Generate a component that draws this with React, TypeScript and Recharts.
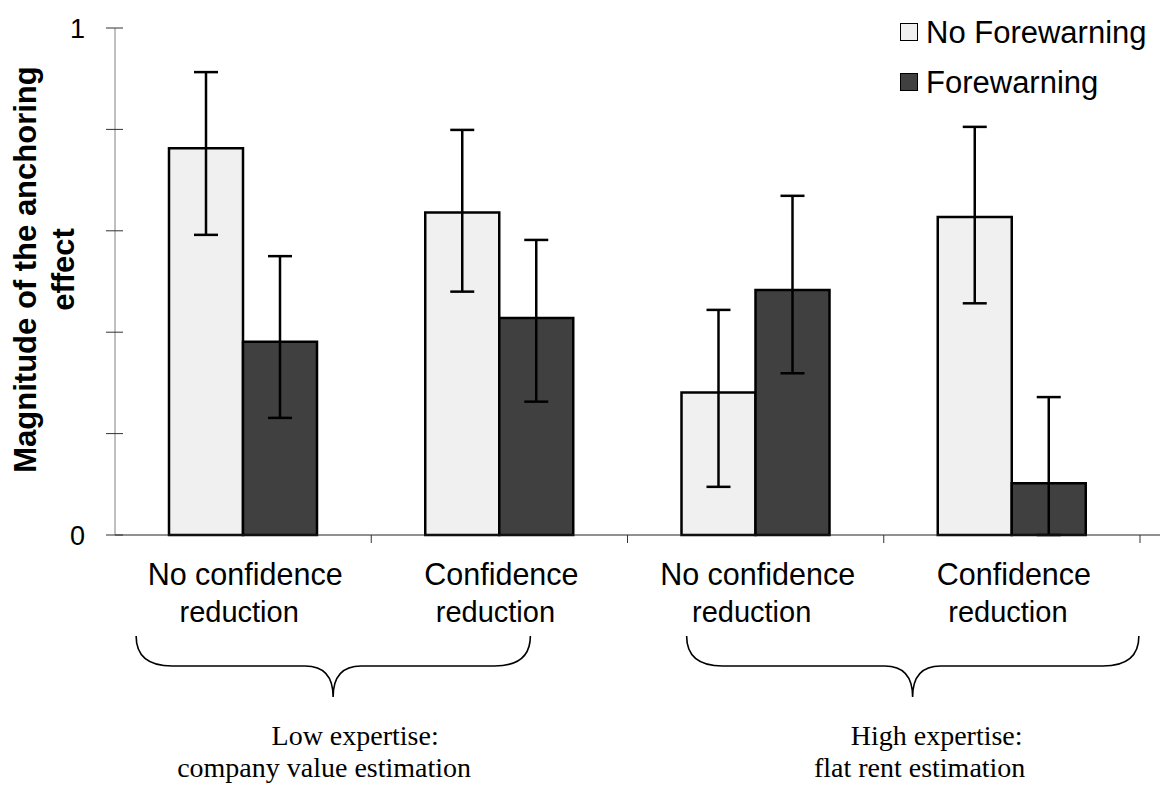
import React from "react";
import { BarChart, Bar, XAxis, YAxis, ErrorBar, Legend, Label } from "recharts";

// ---------- data ----------
const categoryKeys = ["low-noconf", "low-conf", "high-noconf", "high-conf"];
const categoryLine1 = ["No confidence", "Confidence", "No confidence", "Confidence"];
const categoryLine2 = ["reduction", "reduction", "reduction", "reduction"];
const groupLine1 = ["Low expertise:", "High expertise:"];
const groupLine2 = ["company value estimation", "flat rent estimation"];
const seriesNames = ["No Forewarning", "Forewarning"];
const noForewarning = [0.763, 0.636, 0.281, 0.627];
// [below, above]
const noForewarningErr = [[0.171, 0.15], [0.156, 0.163], [0.186, 0.163], [0.17, 0.178]];
const forewarning = [0.381, 0.428, 0.483, 0.102];
const forewarningErr = [[0.15, 0.169], [0.165, 0.154], [0.164, 0.186], [0.102, 0.17]];
const yTicks = [0, 0.2, 0.4, 0.6, 0.8, 1];
const yTickLabels: Record<string, string> = { "0": "0", "1": "1" };
const yLabelLines = ["Magnitude of the anchoring", "effect"];

const data = categoryKeys.map((k, i) => ({
  key: k,
  nf: noForewarning[i],
  nfErr: noForewarningErr[i],
  f: forewarning[i],
  fErr: forewarningErr[i],
}));

// ---------- style ----------
const SANS = "'Liberation Sans', Arial, Helvetica, sans-serif";
const SERIF = "'Liberation Serif', 'Times New Roman', serif";
const fills = ["#f0f0f0", "#404040"];
const W = 1167;
const H = 785;
const PAD_RIGHT = 20;
const MARGIN_RIGHT = 7;
const Y_AXIS_W = 115;
const BAND = (W - MARGIN_RIGHT - Y_AXIS_W - PAD_RIGHT) / categoryKeys.length;

// brace / group label layout relative to the first category of each group
const groupLayout: Record<number, any> = {
  0: { left: -107, right: BAND + 31, mid: 90, t1: 112, t2: 81, g: 0 },
  2: { left: -69, right: BAND + 127, mid: 157, t1: 181, t2: 164, g: 1 },
};

const bracePath = (L: number, R: number, M: number, y0: number, y1: number, y2: number) =>
  `M${L},${y0} Q${L},${y1} ${L + 36},${y1} L${M - 28},${y1} Q${M},${y1} ${M},${y2} ` +
  `Q${M},${y1} ${M + 28},${y1} L${R - 36},${y1} Q${R},${y1} ${R},${y0}`;

const XTick = (props: any) => {
  const { x, y, payload } = props;
  const i = props.index != null ? props.index : payload.index;
  const gl = groupLayout[i];
  return (
    <g>
      <line x1={x + BAND / 2} x2={x + BAND / 2} y1={y} y2={y + 8} stroke="#333" strokeWidth={1} />
      <text x={x + 2} y={y + 50} textAnchor="middle" fontFamily={SANS} fontSize={30.5} fill="#000">
        {categoryLine1[i]}
      </text>
      <text x={x - 4} y={y + 87} textAnchor="middle" fontFamily={SANS} fontSize={29} fill="#000">
        {categoryLine2[i]}
      </text>
      {gl && (
        <g>
          <path
            d={bracePath(x + gl.left, x + gl.right, x + gl.mid, y + 101, y + 131, y + 162)}
            fill="none"
            stroke="#000"
            strokeWidth={1.6}
          />
          <text x={x + gl.t1} y={y + 210} textAnchor="middle" fontFamily={SERIF} fontSize={28} fill="#000">
            {groupLine1[gl.g]}
          </text>
          <text x={x + gl.t2} y={y + 242} textAnchor="middle" fontFamily={SERIF} fontSize={28} fill="#000">
            {groupLine2[gl.g]}
          </text>
        </g>
      )}
    </g>
  );
};

const YTick = (props: any) => {
  const { x, y, payload } = props;
  const lbl = yTickLabels[String(payload.value)];
  return (
    <g>
      <line x1={x + 30} x2={x + 38} y1={y} y2={y} stroke="#333" strokeWidth={1} />
      {lbl != null && (
        <text x={x} y={y} dy="0.36em" textAnchor="end" fontFamily={SANS} fontSize={27} fill="#000">
          {lbl}
        </text>
      )}
    </g>
  );
};

const YLabel = (props: any) => {
  const vb = props.viewBox || { x: 0, y: 28, width: 115, height: 507 };
  const cy = vb.y + vb.height / 2 - 12;
  const xs = [36, 74];
  return (
    <g>
      {yLabelLines.map((t, i) => (
        <text
          key={i}
          x={xs[i]}
          y={cy}
          transform={`rotate(-90, ${xs[i]}, ${cy})`}
          textAnchor="middle"
          fontFamily={SANS}
          fontWeight="bold"
          fontSize={31}
          fill="#000"
        >
          {t}
        </text>
      ))}
    </g>
  );
};

const LegendContent = () => (
  <div style={{ fontFamily: SANS, fontSize: 31, color: "#000", lineHeight: 1 }}>
    {seriesNames.map((n, i) => (
      <div key={n} style={{ display: "flex", alignItems: "center", height: 50 }}>
        <span
          style={{
            display: "inline-block",
            width: 18,
            height: 18,
            boxSizing: "border-box",
            border: "1.5px solid #000",
            background: fills[i],
            marginRight: 8,
          }}
        />
        <span>{n}</span>
      </div>
    ))}
  </div>
);

export default function App() {
  return (
    <div style={{ position: "absolute", left: 0, top: 0, width: W, height: H, background: "#fff", fontFamily: SANS }}>
      <BarChart
        width={W}
        height={H}
        data={data}
        margin={{ top: 28, right: MARGIN_RIGHT, bottom: 0, left: 0 }}
        barGap={0}
        barSize={74}
      >
        <XAxis
          dataKey="key"
          height={250}
          interval={0}
          axisLine={{ stroke: "#222", strokeWidth: 1 }}
          tickLine={false}
          tickSize={0}
          tickMargin={0}
          padding={{ left: 0, right: PAD_RIGHT }}
          tick={<XTick />}
        />
        <YAxis
          width={Y_AXIS_W}
          type="number"
          domain={[0, 1]}
          ticks={yTicks}
          interval={0}
          axisLine={{ stroke: "#808080", strokeWidth: 1 }}
          tickLine={{ stroke: "#333", strokeWidth: 1 }}
          tickSize={9}
          tickMargin={21}
          tick={<YTick />}
        >
          <Label content={<YLabel />} />
        </YAxis>
        <Legend
          layout="horizontal"
          verticalAlign="middle"
          align="center"
          content={<LegendContent />}
          wrapperStyle={{ top: 7, left: 900, width: 265, right: "auto", bottom: "auto" }}
        />
        <Bar dataKey="nf" name={seriesNames[0]} fill={fills[0]} stroke="#000" strokeWidth={2.5} isAnimationActive={false}>
          <ErrorBar dataKey="nfErr" width={12} strokeWidth={2.5} stroke="#000" direction="y" />
        </Bar>
        <Bar dataKey="f" name={seriesNames[1]} fill={fills[1]} stroke="#000" strokeWidth={2.5} isAnimationActive={false}>
          <ErrorBar dataKey="fErr" width={12} strokeWidth={2.5} stroke="#000" direction="y" />
        </Bar>
      </BarChart>
    </div>
  );
}
